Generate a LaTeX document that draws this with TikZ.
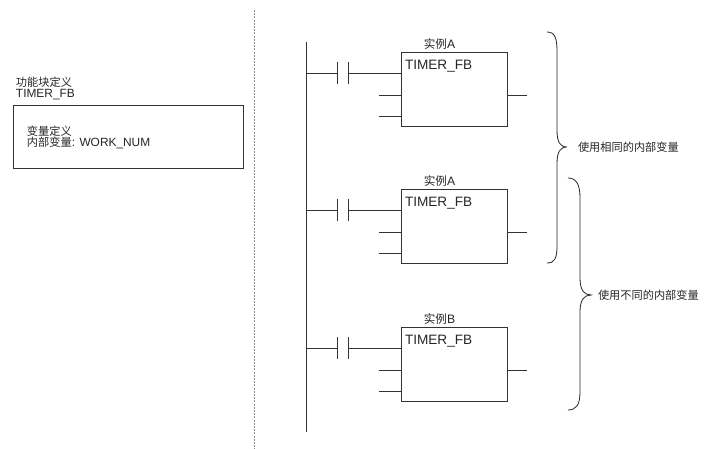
\documentclass[tikz,border=0pt]{standalone}
\usepackage{fontspec}
\setmainfont{Liberation Sans}
\newfontfamily\cjkfam{Noto Sans CJK SC}
\newcommand{\zh}[1]{{\fontsize{11.2}{11.5}\cjkfam #1}}
\usetikzlibrary{calc}
\begin{document}
\begin{tikzpicture}[x=1pt,y=-1pt,
  every node/.style={inner sep=0pt,outer sep=0pt,text=black!85},
  line/.style={draw=black!80,line width=0.8pt},
  defbox/.style={draw=black!80,line width=0.8pt,minimum width=230pt,minimum height=63pt},
  fbbox/.style={draw=black!80,line width=0.8pt,minimum width=106pt,minimum height=74pt},
  small/.style={font=\fontsize{11.9}{11.5}\selectfont,align=left},
  fbtitle/.style={font=\fontsize{13.6}{14}\selectfont},
  inst/.style={font=\fontsize{12.2}{13}\selectfont},
  brace/.style={draw=black!85,line width=0.8pt},
  divider/.style={draw=black!45,line width=0.8pt,dash pattern=on 2pt off 1.2pt}
]
\useasboundingbox[fill=white] (0,0) rectangle (706,449);

% left: function block definition
\node[small,anchor=north west] (deftitle) at (16,77) {\zh{功能块定义}\\TIMER\_FB};
\node[defbox,anchor=north west] (defbox) at (13,105) {};
\node[small,anchor=west] (deftext) at (27,137.5) {\zh{变量定义}\\\zh{内部变量}: WORK\_NUM};

% dashed divider
\coordinate (dtop) at (254,10);
\coordinate (dbot) at (254,449);
\draw[divider] (dtop) -- (dbot);

% power rail
\coordinate (railtop) at (306,42);
\coordinate (railbot) at (306,432);
\draw[line] (railtop) -- (railbot);

% rungs
\foreach \i/\t/\l in {1/52/A,2/189/A,3/327/B}{
  \node[fbbox,anchor=north west] (fb\i) at (401,\t) {};
  \node[fbtitle,anchor=west] (fbt\i) at ($(fb\i.north west)+(4,14)$) {TIMER\_FB};
  \node[inst] (lab\i) at (439.5,\t-7.5) {{\fontsize{11.6}{13}\cjkfam 实例}\l};
  \coordinate (r\i) at (306,\t+21);
  \coordinate (ca\i) at (337,\t+21);
  \coordinate (cb\i) at (348,\t+21);
  \coordinate (ina\i) at (379,\t+43);
  \coordinate (inb\i) at (379,\t+64);
  \coordinate (out\i) at (527,\t+43);
  \draw[line] (r\i) -- (ca\i);
  \draw[line] ($(ca\i)+(0,-11)$) -- ($(ca\i)+(0,11)$);
  \draw[line] ($(cb\i)+(0,-11)$) -- ($(cb\i)+(0,11)$);
  \draw[line] (cb\i) -- (fb\i.west |- cb\i);
  \draw[line] (ina\i) -- (fb\i.west |- ina\i);
  \draw[line] (inb\i) -- (fb\i.west |- inb\i);
  \draw[line] (fb\i.east |- out\i) -- (out\i);
}

% braces
\coordinate (b1top) at (547,32);
\coordinate (b1tip) at (567,147);
\coordinate (b1bot) at (547,263);
\draw[brace] (b1top) .. controls (555,32) and (557,38) .. (557,52)
  -- (557,130) .. controls (557,142) and (560,147) .. (b1tip)
  .. controls (560,147) and (557,152) .. (557,164)
  -- (557,245) .. controls (557,258) and (555,263) .. (b1bot);
\node[anchor=west] (t1) at (578,147) {\zh{使用相同的内部变量}};

\coordinate (b2top) at (568,178);
\coordinate (b2tip) at (591,295);
\coordinate (b2bot) at (568,410);
\draw[brace] (b2top) .. controls (576,178) and (580,184) .. (580,198)
  -- (580,278) .. controls (580,290) and (584,295) .. (b2tip)
  .. controls (584,295) and (580,300) .. (580,312)
  -- (580,392) .. controls (580,405) and (576,410) .. (b2bot);
\node[anchor=west] (t2) at (598,295) {\zh{使用不同的内部变量}};
\end{tikzpicture}
\end{document}
